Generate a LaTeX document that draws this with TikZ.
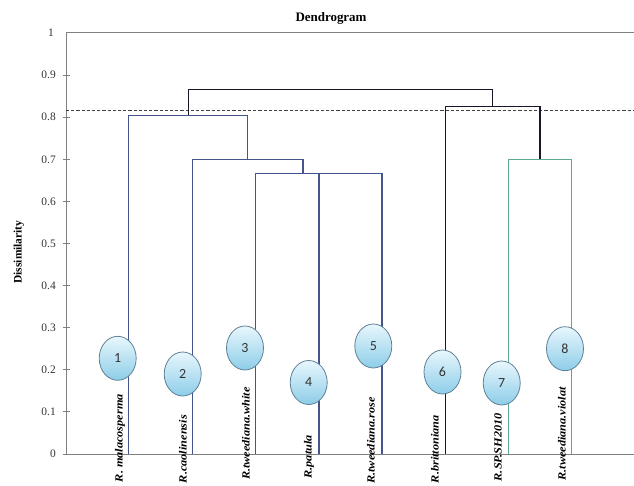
\documentclass[tikz,border=0pt]{standalone}
\usepackage{fontspec}
\setmainfont{Liberation Serif}
\newfontfamily\numfont{Carlito}
\usetikzlibrary{shapes.geometric}
\definecolor{bluel}{HTML}{44548C}
\definecolor{darkl}{HTML}{17172C}
\definecolor{greenl}{HTML}{5BAA8E}
\definecolor{axisg}{HTML}{808080}
\definecolor{bubtop}{HTML}{E8F7FD}
\definecolor{bubbot}{HTML}{8DCDE8}
\definecolor{bubedge}{HTML}{5F8096}
\tikzset{
  blueline/.style={draw=bluel, line width=1.2bp},
  darkline/.style={draw=darkl, line width=1.5bp},
  greenline/.style={draw=greenl, line width=1.2bp},
  axisline/.style={draw=axisg, line width=1bp},
  ticklabel/.style={anchor=east, inner sep=0pt, text=black!80, font=\fontsize{11.5}{12}\selectfont},
  leaflabel/.style={rotate=90, anchor=east, inner sep=0pt, font=\fontsize{11}{12}\selectfont\bfseries\itshape},
  bubble/.style={ellipse, minimum width=37bp, minimum height=44bp, inner sep=0pt,
    top color=bubtop, bottom color=bubbot, draw=bubedge, line width=0.8bp,
    font=\numfont\fontsize{14}{14}\selectfont, text=black!80},
}
\begin{document}
\begin{tikzpicture}[x=1bp,y=-1bp]
\useasboundingbox (0,0) rectangle (634,486);
% axes
\coordinate (A0) at (66,454);
\coordinate (A1) at (66,33);
\coordinate (AR0) at (634,454);
\coordinate (AR1) at (634,33);
\draw[axisline] (AR1) -- (A1) -- (A0) -- (AR0);
\foreach \v/\t in {0/0,1/0.1,2/0.2,3/0.3,4/0.4,5/0.5,6/0.6,7/0.7,8/0.8,9/0.9}{
  \draw[axisline] (62.5,454-42.1*\v) -- (69.5,454-42.1*\v);
  \node[ticklabel] (t\v) at (56,454-42.1*\v) {\t};
}
\node[ticklabel] (t10) at (54,33) {1};
% title and axis label
\node[font=\fontsize{13}{14}\selectfont\bfseries, inner sep=0pt] (title) at (331,18) {Dendrogram};
\node[rotate=90, font=\fontsize{11.5}{12}\selectfont\bfseries, inner sep=0pt] (ylab) at (19,252) {Dissimilarity};
% cut line
\coordinate (C0) at (66,110.5);
\coordinate (C1) at (634,110.5);
\draw[draw=black!75, line width=1.2bp, dash pattern=on 3.2bp off 2bp] (C0) -- (C1);
% leaves
\coordinate (L1) at (128.7,454);
\coordinate (L2) at (192.3,454);
\coordinate (L3) at (255.7,454);
\coordinate (L4) at (319,454);
\coordinate (L5) at (382,454);
\coordinate (L6) at (445.3,454);
\coordinate (L7) at (508.7,454);
\coordinate (L8) at (571.7,454);
% merges
\coordinate (M45) at (350.5,173.2);
\coordinate (M3) at (303,173.2);
\coordinate (M2) at (247.5,159.3);
\coordinate (M1) at (188.3,115.5);
\coordinate (M78) at (540.2,159.3);
\coordinate (M6) at (492.6,106.7);
\coordinate (MR) at (340.5,89.4);
\draw[blueline] (L4) |- (M45) -| (L5);
\draw[blueline] (L3) |- (M3) -| (M45);
\draw[blueline] (L2) |- (M2) -| (M3);
\draw[blueline] (L1) |- (M1) -| (M2);
\draw[greenline] (L7) |- (M78) -| (L8);
\draw[darkline] (L6) |- (M6) -| (M78);
\draw[darkline] (M1) |- (MR) -| (M6);
% leaf labels
\node[leaflabel] (n1) at (120,394) {\scalebox{1.12}[1]{R. malacosperma}};
\node[leaflabel] (n2) at (183,415) {\scalebox{1.12}[1]{R.caolinensis}};
\node[leaflabel] (n3) at (246,387) {\scalebox{1.12}[1]{R.tweediana.white}};
\node[leaflabel] (n4) at (309,435) {\scalebox{1.12}[1]{R.patula}};
\node[leaflabel] (n5) at (371,397) {\scalebox{1.12}[1]{R.tweediana.rose}};
\node[leaflabel] (n6) at (435,415) {\scalebox{1.12}[1]{R.brittoniana}};
\node[leaflabel] (n7) at (498,413) {\scalebox{1.12}[1]{R.SP.SH2010}};
\node[leaflabel] (n8) at (562,387) {\scalebox{1.12}[1]{R.tweediana.violat}};
% bubbles
\node[bubble] (b1) at (117.7,358.3) {1};
\node[bubble] (b2) at (182.7,374) {2};
\node[bubble] (b3) at (245,348) {3};
\node[bubble] (b4) at (308.7,382.5) {4};
\node[bubble] (b5) at (373.3,346) {5};
\node[bubble] (b6) at (442.5,372) {6};
\node[bubble] (b7) at (501.7,383) {7};
\node[bubble] (b8) at (565,348.7) {8};
\end{tikzpicture}
\end{document}
